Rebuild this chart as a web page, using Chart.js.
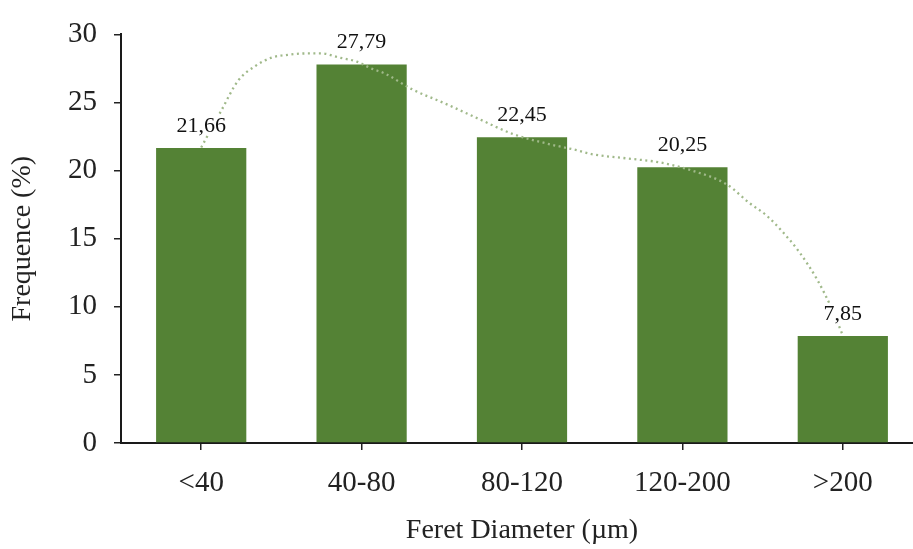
<!DOCTYPE html>
<html>
<head>
<meta charset="utf-8">
<script src="https://cdn.jsdelivr.net/npm/chart.js@4/dist/chart.umd.min.js"></script>
<style>
  html, body { margin: 0; padding: 0; background: #fff; overflow: hidden; width: 913px; height: 549px; }
  #wrap { width: 930px; height: 549px; }
</style>
</head>
<body>
<div id="wrap"><canvas id="chart" width="930" height="549"></canvas></div>
<script>
// Size classes of the Feret diameter and their share of particles (%)
const categories = ['<40', '40-80', '80-120', '120-200', '>200'];
const frequencies = [21.66, 27.79, 22.45, 20.25, 7.85];

// Y axis ticks
const yTicks = [0, 5, 10, 15, 20, 25, 30];

// Dotted trend curve: position along the class axis (0 = first class) and value (%)
const trendPos = [0.0, 0.125, 0.23, 0.34, 0.44, 0.54, 0.65, 0.75, 0.86, 0.97, 1.06, 1.15, 1.31,
                  1.525, 1.73, 1.94, 2.15, 2.34, 2.44, 2.65, 2.86, 3.06, 3.275, 3.42, 3.525,
                  3.625, 3.73, 3.84, 3.93, 4.0];
const trendVal = [21.7, 24.4, 26.6, 27.7, 28.3, 28.5, 28.6, 28.6, 28.3, 28.0, 27.5, 27.1, 26.0,
                  24.9, 23.8, 22.7, 22.0, 21.5, 21.2, 20.9, 20.6, 20.0, 19.0, 17.6, 16.7,
                  15.5, 14.0, 12.0, 9.9, 7.9];

const FONT = "'Liberation Serif', 'Times New Roman', serif";
const TEXT = '#222';

// Value labels above the bars, on a white box
const barLabels = {
  id: 'barLabels',
  afterDatasetsDraw(chart) {
    const ctx = chart.ctx;
    const meta = chart.getDatasetMeta(0);
    ctx.save();
    ctx.font = `22px ${FONT}`;
    ctx.textAlign = 'center';
    ctx.textBaseline = 'middle';
    meta.data.forEach((bar, i) => {
      const txt = frequencies[i].toFixed(2).replace('.', ',');
      const w = ctx.measureText(txt).width;
      const cy = bar.y - 22;
      ctx.fillStyle = '#fff';
      ctx.fillRect(bar.x - w / 2 - 2, cy - 11, w + 4, 20);
      ctx.fillStyle = '#111';
      ctx.fillText(txt, bar.x, cy);
    });
    ctx.restore();
  }
};

new Chart(document.getElementById('chart'), {
  type: 'bar',
  data: {
    datasets: [
      {
        type: 'bar',
        data: frequencies.map((v, i) => ({ x: i, y: v })),
        backgroundColor: '#548235',
        borderWidth: 0,
        barPercentage: 0.5625,
        categoryPercentage: 1.0,
        order: 1
      },
      {
        type: 'line',
        data: trendPos.map((p, i) => ({ x: p, y: trendVal[i] })),
        borderColor: '#a0b98a',
        borderWidth: 2.3,
        borderDash: [2, 3.5],
        pointRadius: 0,
        cubicInterpolationMode: 'monotone',
        fill: false,
        order: 0
      }
    ]
  },
  options: {
    responsive: false,
    animation: false,
    layout: { padding: { top: 31, right: 7, left: 0, bottom: 0 } },
    plugins: {
      legend: { display: false },
      tooltip: { enabled: false }
    },
    scales: {
      x: {
        type: 'linear',
        min: -0.5,
        max: 4.5,
        offset: false,
        afterFit(scale) { scale.height = 106; },
        afterBuildTicks(scale) { scale.ticks = categories.map((c, i) => ({ value: i })); },
        grid: { offset: false, drawOnChartArea: false, drawTicks: true, tickLength: 7, color: '#222', lineWidth: 1.5 },
        border: { display: true, color: '#1a1a1a', width: 2 },
        ticks: {
          color: TEXT, font: { family: FONT, size: 29 }, padding: 16, maxRotation: 0, autoSkip: false,
          callback: (v) => categories[v]
        },
        title: { display: true, text: 'Feret Diameter (µm)', color: TEXT, font: { family: FONT, size: 28 }, padding: { top: 4, bottom: 2 } }
      },
      y: {
        min: 0,
        max: 30,
        afterFit(scale) { scale.width = 121; },
        afterBuildTicks(scale) { scale.ticks = yTicks.map(v => ({ value: v })); },
        grid: { drawOnChartArea: false, drawTicks: true, tickLength: 7, color: '#222', lineWidth: 1.5 },
        border: { display: true, color: '#1a1a1a', width: 2 },
        ticks: { color: TEXT, font: { family: FONT, size: 29 }, padding: 17 },
        title: { display: true, text: 'Frequence (%)', color: TEXT, font: { family: FONT, size: 28 }, padding: { top: 6, bottom: 0 } }
      }
    }
  },
  plugins: [barLabels]
});
</script>
</body>
</html>
